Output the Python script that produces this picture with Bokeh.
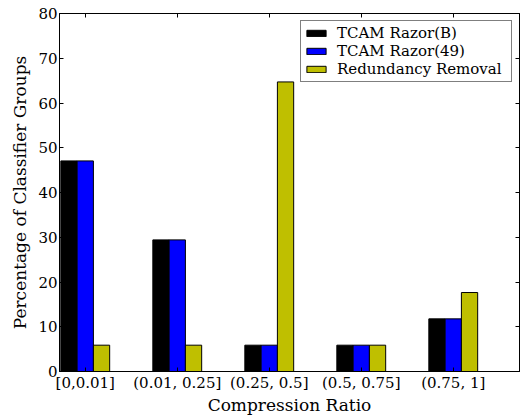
import numpy as np
from bokeh.plotting import figure
from bokeh.models import Range1d, FixedTicker, LinearAxis, ColumnDataSource
from bokeh.embed import file_html
from bokeh.resources import INLINE

categories = ["[0,0.01]", "(0.01, 0.25]", "(0.25, 0.5]", "(0.5, 0.75]", "(0.75, 1]"]
razor_b = [47.06, 29.41, 5.88, 5.88, 11.76]
razor_49 = [47.06, 29.41, 5.88, 5.88, 11.76]
redundancy = [5.88, 5.88, 64.71, 5.88, 17.65]
series_names = ["TCAM Razor(B)", "TCAM Razor(49)", "Redundancy Removal"]
series_colors = ["#000000", "#0000ff", "#bfbf00"]
y_ticks = [0, 10, 20, 30, 40, 50, 60, 70, 80]

FONT = "DejaVu Serif"
W = 0.177

p = figure(width=521, height=417, output_backend="svg", toolbar_location=None,
           x_range=Range1d(-0.28, 4.72), y_range=Range1d(0, 80),
           min_border_left=59, min_border_right=2, min_border_top=13, min_border_bottom=10)

idx = np.arange(len(categories))
for k, (vals, name, col) in enumerate(zip([razor_b, razor_49, redundancy], series_names, series_colors)):
    src = ColumnDataSource(dict(x=idx + (k - 1) * W, top=vals))
    p.vbar(x="x", top="top", bottom=0, width=W, source=src, fill_color=col,
           line_color="#000000", line_width=1, legend_label=name)

p.xgrid.visible = False
p.ygrid.visible = False
p.outline_line_color = "#000000"
p.outline_line_width = 1
p.outline_line_alpha = 1
p.background_fill_color = "#ffffff"
p.border_fill_color = "#ffffff"

xa = p.xaxis[0]
xa.ticker = FixedTicker(ticks=list(idx))
xa.major_label_overrides = {int(i): c for i, c in zip(idx, categories)}
ya = p.yaxis[0]
ya.ticker = FixedTicker(ticks=y_ticks)

for ax in (xa, ya):
    ax.major_tick_in = 4
    ax.major_tick_out = 0
    ax.minor_tick_line_color = None
    ax.axis_line_color = "#000000"
    ax.major_tick_line_color = "#000000"
    ax.major_label_text_font = FONT
    ax.major_label_text_font_size = "15px"
    ax.major_label_text_color = "#000000"
    ax.axis_label_text_font = FONT
    ax.axis_label_text_font_size = "17px"
    ax.axis_label_text_font_style = "normal"
    ax.axis_label_text_color = "#000000"
    ax.major_label_standoff = 2

xa.axis_label = "Compression Ratio"
ya.axis_label = "Percentage of Classifier Groups"
xa.axis_label_standoff = 0
ya.axis_label_standoff = 5

for loc, tick in (("right", y_ticks), ("above", list(idx))):
    ax = LinearAxis(ticker=FixedTicker(ticks=tick), major_tick_in=4, major_tick_out=0,
                    minor_tick_line_color=None, major_label_text_font_size="1px",
                    major_label_text_color=None, major_label_standoff=0,
                    axis_line_color="#000000")
    p.add_layout(ax, loc)

leg = p.legend[0]
leg.location = "top_right"
leg.margin = 7
leg.padding = 3
leg.spacing = 0
leg.label_height = 18
leg.glyph_height = 8
leg.glyph_width = 24
leg.label_standoff = 9
leg.label_width = 171
leg.label_text_font = FONT
leg.label_text_font_size = "15px"
leg.label_text_color = "#000000"
leg.border_line_color = "#000000"
leg.border_line_width = 1
leg.background_fill_alpha = 1

open("out.html", "w").write(file_html(p, INLINE))
